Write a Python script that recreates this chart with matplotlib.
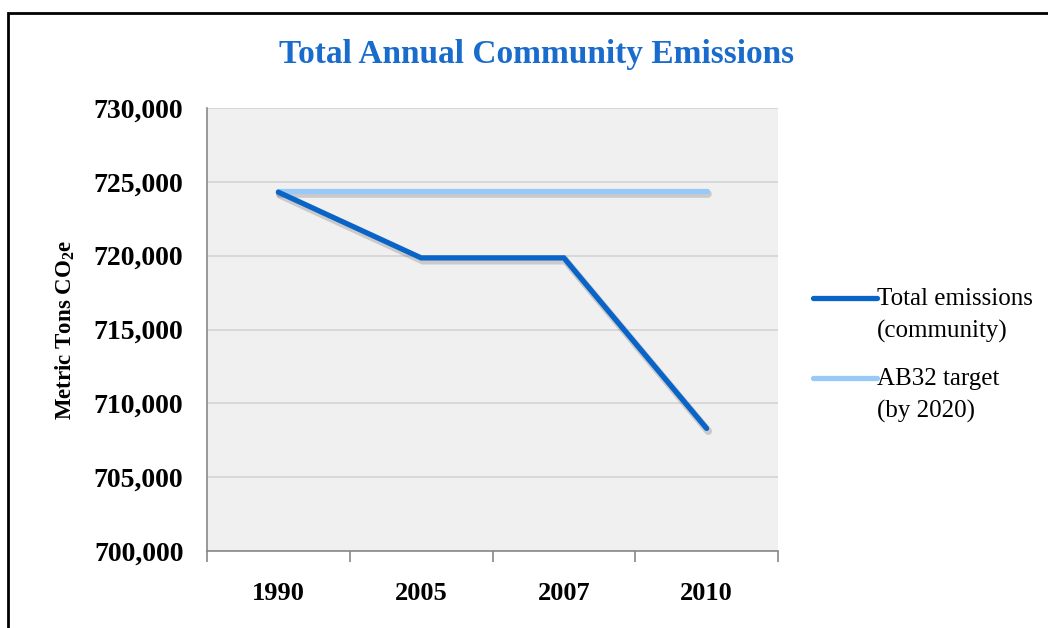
import matplotlib.pyplot as plt
import matplotlib.patheffects as pe
from matplotlib.patches import Rectangle
import numpy as np

years = ['1990', '2005', '2007', '2010']
total_emissions = [724300, 719850, 719850, 708300]
ab32_target = [724350, 724350, 724350, 724350]
yticks = [700000, 705000, 710000, 715000, 720000, 725000, 730000]

dark_blue = '#0a64c8'
light_blue = '#99c9f7'
title_blue = '#1a6ccc'

plt.rcParams['font.family'] = ['Liberation Serif', 'DejaVu Serif']

fig = plt.figure(figsize=(10.48, 6.28), dpi=100)
ax = fig.add_axes([207 / 1048, 1 - 551 / 628, (778 - 207) / 1048, (551 - 108) / 628])
ax.set_facecolor('#f0f0f0')

x = np.arange(len(years))
shadow = [pe.SimpleLineShadow(offset=(1.2, -2), shadow_color='#444444', alpha=0.22, linewidth=5.5),
          pe.Normal()]
ax.plot(x, ab32_target, color=light_blue, lw=3.8, solid_capstyle='round',
        path_effects=shadow, label='AB32 target\n(by 2020)', zorder=3)
ax.plot(x, total_emissions, color=dark_blue, lw=3.8, solid_capstyle='round',
        solid_joinstyle='miter', path_effects=shadow, label='Total emissions\n(community)', zorder=4)

ax.set_xlim(-0.5, len(years) - 0.5)
ax.set_ylim(700000, 730000)
ax.set_yticks(yticks)
ax.set_yticklabels([f'{v:,}' for v in yticks], fontsize=20, fontweight='bold')
ax.set_xticks(x)
ax.set_xticklabels(years, fontsize=19, fontweight='bold')
ax.set_xticks(np.arange(len(years) + 1) - 0.5, minor=True)
ax.tick_params(axis='x', which='major', length=0, pad=22)
ax.tick_params(axis='x', which='minor', length=8, color='#888888', width=1.2)
ax.tick_params(axis='y', length=0, pad=17)

ax.grid(axis='y', color='#d4d4d4', lw=1.2)
ax.set_axisbelow(True)
for s in ['top', 'right']:
    ax.spines[s].set_visible(False)
for s in ['left', 'bottom']:
    ax.spines[s].set_color('#888888')
    ax.spines[s].set_linewidth(1.2)

ax.set_ylabel('Metric Tons CO$_\\mathregular{2}$e', fontsize=16.5, fontweight='bold', labelpad=12)
fig.text(537 / 1048, 1 - 55 / 628, 'Total Annual Community Emissions', ha='center', va='center',
         fontsize=24, fontweight='bold', color=title_blue)

handles, labels = ax.get_legend_handles_labels()
leg = ax.legend(handles[::-1], labels[::-1], loc='center left', bbox_to_anchor=(1.061, 0.442),
                frameon=False, fontsize=18, handlelength=2.55, handletextpad=0.0,
                labelspacing=1.0, borderpad=0, borderaxespad=0)
for t in leg.get_texts():
    t.set_linespacing(1.55)
# put each legend line level with the first row of its label
for line in leg.get_lines():
    line.set_path_effects([])
    line.set_linewidth(3.8)
    line.set_ydata(np.asarray(line.get_ydata()) + 12)

fig.patches.append(Rectangle((8 / 1048, -0.1), 1.2, 1.1 - 13 / 628, transform=fig.transFigure,
                             fill=False, edgecolor='black', lw=2, clip_on=False))

plt.savefig('out.png', dpi=100)
